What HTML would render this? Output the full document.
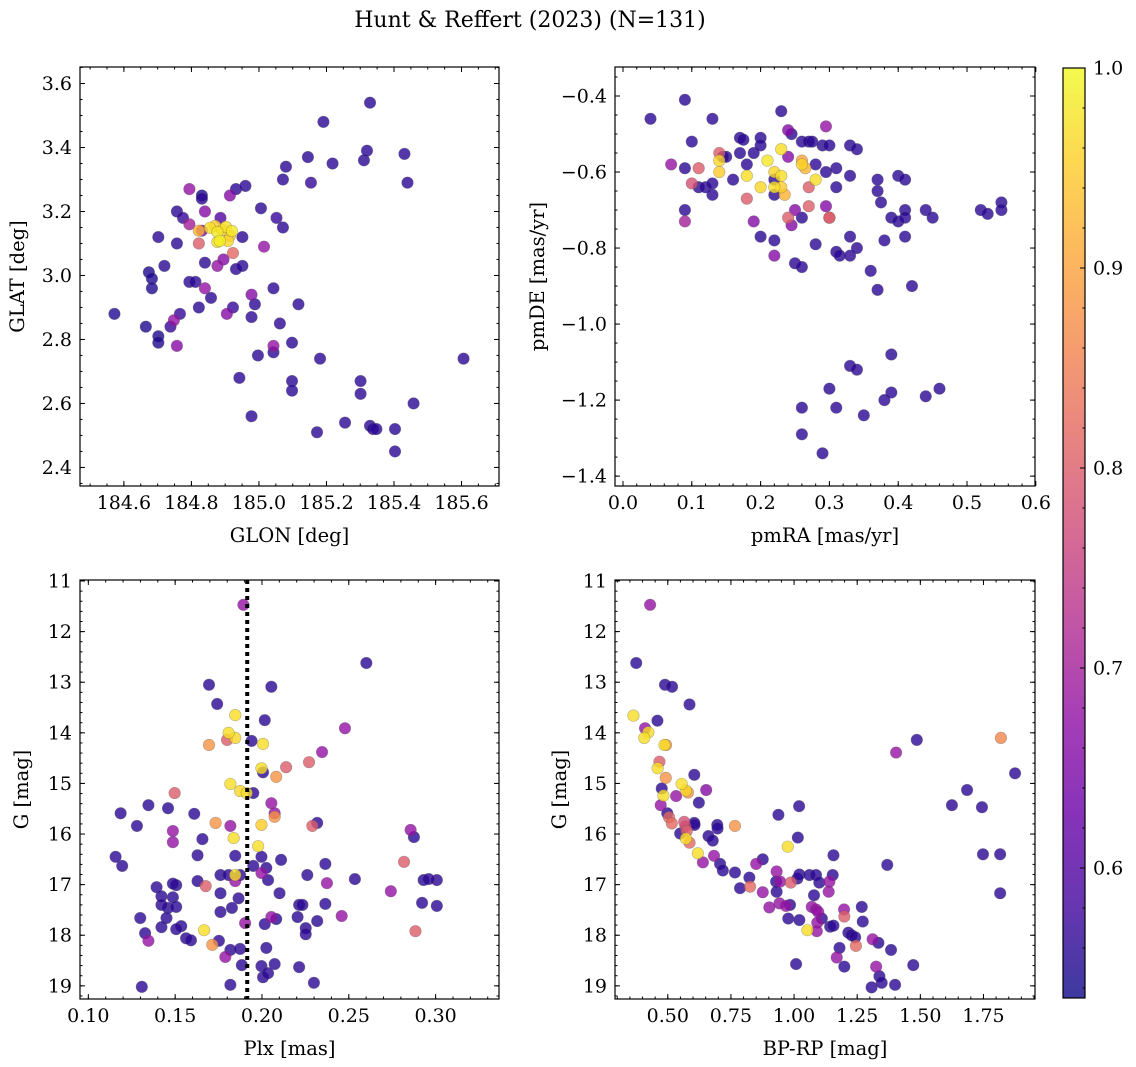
<!DOCTYPE html>
<html><head><meta charset="utf-8">
<style>
html,body{margin:0;padding:0;background:#fff;}
svg{display:block;font-family:"DejaVu Serif","Liberation Serif",serif;}
</style></head>
<body>
<svg id="fig" width="1136" height="1067" viewBox="0 0 1136 1067" xmlns="http://www.w3.org/2000/svg">
<text x="530" y="27" font-size="22" text-anchor="middle" fill="#000">Hunt &amp; Reffert (2023) (N=131)</text>
</svg>
<script>
// ---------- Panel 1 data: GLON / GLAT ----------
const p1x = [184.572,184.665,184.674,184.683,184.683,184.702,184.702,184.702,184.720,184.738,184.748,184.757,184.757,184.766,184.757,184.775,184.794,184.794,184.794,184.812,184.822,184.831,184.831,184.822,184.831,184.840,184.840,184.840,184.822,184.858,184.877,184.886,184.895,184.905,184.923,184.923,184.914,184.932,184.932,184.942,184.951,184.951,184.960,184.978,184.978,184.988,184.978,185.006,185.015,184.997,185.043,185.043,185.043,185.052,185.071,185.062,185.071,185.080,185.098,185.098,185.098,185.117,185.145,185.154,185.172,185.181,185.191,185.218,185.255,185.301,185.301,185.311,185.320,185.329,185.329,185.338,185.348,185.403,185.403,185.431,185.440,185.458,185.606,184.855,184.870,184.877,184.891,184.902,184.914,184.884,184.877,184.920,184.908];
const p1y = [2.88,2.84,3.01,2.99,2.96,3.12,2.81,2.79,3.03,2.84,2.86,3.20,3.10,2.88,2.78,3.18,3.16,3.27,2.98,2.98,2.90,3.25,3.24,3.10,3.14,3.04,3.20,2.96,3.14,2.93,3.03,3.18,3.05,2.88,2.90,3.07,3.25,3.27,3.02,2.68,3.03,3.12,3.28,2.94,2.87,2.91,2.56,3.21,3.09,2.75,2.96,2.76,2.78,3.18,3.30,2.85,3.15,3.34,2.79,2.67,2.64,2.91,3.37,3.29,2.51,2.74,3.48,3.35,2.54,2.67,2.63,3.36,3.39,3.54,2.53,2.52,2.52,2.52,2.45,3.38,3.29,2.60,2.74,3.149,3.155,3.136,3.142,3.152,3.124,3.108,3.105,3.139,3.108];
const p1p = [.55,.55,.55,.55,.55,.56,.55,.55,.56,.57,.68,.56,.56,.57,.66,.57,.70,.68,.56,.56,.56,.55,.56,.80,.66,.56,.66,.68,.92,.56,.68,.60,.66,.66,.57,.82,.66,.56,.56,.56,.56,.56,.56,.66,.56,.56,.56,.56,.68,.56,.56,.56,.68,.57,.56,.56,.56,.56,.56,.56,.56,.56,.56,.57,.56,.56,.56,.56,.56,.56,.56,.56,.56,.56,.56,.56,.56,.56,.56,.56,.56,.56,.56,.97,.95,.98,.96,.97,.95,.99,.97,.98,.96];
// ---------- Panel 2 data: pmRA / pmDE ----------
const p2x = [0.04,0.09,0.10,0.07,0.09,0.09,0.09,0.10,0.11,0.11,0.12,0.13,0.14,0.14,0.13,0.13,0.14,0.145,0.15,0.16,0.17,0.175,0.17,0.18,0.18,0.18,0.19,0.19,0.20,0.20,0.20,0.20,0.21,0.22,0.22,0.22,0.22,0.22,0.22,0.23,0.23,0.23,0.235,0.24,0.23,0.24,0.245,0.24,0.245,0.25,0.26,0.25,0.26,0.26,0.265,0.26,0.26,0.27,0.27,0.27,0.275,0.28,0.28,0.28,0.29,0.295,0.295,0.30,0.295,0.30,0.30,0.31,0.31,0.31,0.315,0.33,0.33,0.33,0.33,0.34,0.34,0.36,0.37,0.37,0.37,0.375,0.38,0.39,0.40,0.40,0.41,0.41,0.41,0.41,0.42,0.44,0.45,0.52,0.53,0.55,0.55,0.26,0.26,0.29,0.30,0.31,0.33,0.34,0.35,0.38,0.39,0.39,0.44,0.46];
const p2y = [-0.46,-0.41,-0.52,-0.58,-0.70,-0.73,-0.59,-0.63,-0.64,-0.59,-0.64,-0.46,-0.57,-0.60,-0.63,-0.66,-0.55,-0.56,-0.56,-0.62,-0.51,-0.515,-0.55,-0.58,-0.67,-0.61,-0.55,-0.73,-0.64,-0.51,-0.77,-0.53,-0.57,-0.66,-0.62,-0.64,-0.82,-0.60,-0.78,-0.54,-0.61,-0.64,-0.66,-0.56,-0.44,-0.49,-0.50,-0.72,-0.74,-0.70,-0.72,-0.84,-0.57,-0.58,-0.59,-0.52,-0.85,-0.64,-0.69,-0.52,-0.52,-0.58,-0.62,-0.79,-0.53,-0.48,-0.60,-0.72,-0.69,-0.72,-0.53,-0.59,-0.64,-0.81,-0.82,-0.53,-0.61,-0.77,-0.82,-0.54,-0.80,-0.86,-0.91,-0.62,-0.65,-0.68,-0.78,-0.72,-0.73,-0.61,-0.62,-0.70,-0.72,-0.77,-0.90,-0.70,-0.72,-0.70,-0.71,-0.68,-0.70,-1.29,-1.22,-1.34,-1.17,-1.22,-1.11,-1.12,-1.24,-1.20,-1.18,-1.08,-1.19,-1.17];
const p2p = [.56,.56,.56,.68,.56,.70,.56,.78,.56,.80,.56,.56,.96,.95,.56,.56,.80,.56,.56,.56,.56,.56,.56,.56,.80,.97,.56,.66,.96,.56,.56,.56,.98,.56,.56,.97,.66,.96,.56,.97,.97,.95,.92,.66,.56,.66,.56,.80,.66,.66,.56,.56,.90,.96,.92,.56,.56,.80,.80,.56,.56,.56,.97,.56,.56,.68,.56,.80,.66,.80,.56,.56,.56,.56,.56,.56,.56,.56,.56,.56,.56,.56,.56,.56,.56,.56,.56,.56,.56,.56,.56,.56,.56,.56,.56,.56,.56,.56,.56,.56,.56,.56,.56,.56,.56,.56,.56,.56,.56,.56,.56,.56,.56,.56];
// ---------- Panel 3 data: Plx / G ----------
const p3x = [0.1893,0.2601,0.1695,0.2054,0.1742,0.1846,0.2016,0.2478,0.1808,0.1695,0.1799,0.1846,0.2006,0.1940,0.2346,0.2271,0.2139,0.1997,0.2006,0.2082,0.1818,0.1497,0.1874,0.1950,0.1912,0.2054,0.2073,0.1186,0.1346,0.1459,0.1610,0.2073,0.2318,0.2290,0.1733,0.1818,0.1997,0.1280,0.1487,0.1487,0.2856,0.2875,0.1837,0.1657,0.1978,0.1846,0.1629,0.1997,0.2110,0.2818,0.1195,0.1157,0.1950,0.2025,0.2365,0.1997,0.1846,0.1761,0.1808,0.1874,0.2261,0.2035,0.1846,0.2101,0.2535,0.1506,0.1393,0.1487,0.1629,0.1676,0.3007,0.2931,0.2960,0.2374,0.2742,0.1421,0.1487,0.1761,0.1865,0.2214,0.2233,0.2365,0.2922,0.3007,0.1299,0.1459,0.1506,0.1421,0.1450,0.1761,0.1827,0.2054,0.2082,0.2205,0.2318,0.2459,0.1535,0.1903,0.2016,0.2252,0.1506,0.1327,0.1421,0.2252,0.2884,0.1667,0.1563,0.1591,0.1346,0.1714,0.1752,0.2025,0.1818,0.1874,0.1789,0.1884,0.1997,0.2214,0.2073,0.2006,0.2035,0.1818,0.2299,0.1308];
const p3y = [11.47,12.62,13.05,13.09,13.43,13.65,13.75,13.91,14.00,14.24,14.14,14.10,14.22,14.16,14.38,14.58,14.68,14.70,14.78,14.87,15.01,15.19,15.15,15.19,15.19,15.39,15.59,15.59,15.43,15.49,15.60,15.66,15.78,15.84,15.78,15.84,15.82,15.84,15.94,16.16,15.92,16.06,16.08,16.10,16.24,16.43,16.42,16.45,16.51,16.55,16.63,16.45,16.63,16.67,16.59,16.77,16.81,16.81,16.81,16.81,16.81,16.91,16.93,17.17,16.89,17.01,17.05,16.98,16.93,17.03,16.91,16.91,16.89,16.97,17.13,17.23,17.25,17.17,17.27,17.40,17.40,17.38,17.36,17.42,17.66,17.46,17.44,17.40,17.66,17.54,17.46,17.64,17.68,17.64,17.72,17.62,17.82,17.76,17.78,17.86,17.88,17.96,17.84,17.98,17.92,17.90,18.06,18.10,18.11,18.19,18.11,18.25,18.29,18.27,18.43,18.59,18.61,18.63,18.57,18.83,18.75,18.98,18.94,19.02];
const p3p = [.68,.56,.56,.56,.56,.97,.56,.68,.97,.88,.80,.96,.97,.56,.68,.80,.80,.97,.56,.88,.97,.80,.96,.56,.97,.68,.68,.56,.56,.56,.56,.88,.56,.80,.88,.68,.95,.56,.68,.68,.68,.56,.97,.56,.97,.56,.56,.56,.56,.80,.56,.56,.56,.56,.56,.68,.97,.56,.56,.56,.56,.56,.68,.56,.56,.56,.56,.56,.56,.80,.56,.56,.56,.68,.68,.56,.56,.56,.56,.56,.56,.56,.56,.56,.56,.56,.56,.56,.56,.56,.56,.68,.56,.56,.56,.68,.56,.68,.56,.56,.56,.56,.56,.56,.80,.97,.56,.56,.68,.88,.56,.56,.56,.56,.68,.56,.56,.56,.56,.56,.56,.56,.56,.56];
// ---------- Panel 4 data: BP-RP / G ----------
const p4x = [0.430,0.375,0.489,0.517,0.364,0.459,0.410,0.423,0.407,0.493,0.487,0.586,0.467,0.460,0.492,0.605,0.555,0.572,0.580,0.652,0.476,0.483,0.533,0.623,0.472,1.020,0.498,0.505,0.516,0.938,0.565,0.570,0.575,0.605,0.606,0.549,0.572,0.586,0.696,0.697,0.766,0.661,0.678,1.015,0.975,0.619,0.683,0.639,1.156,1.369,0.850,0.876,0.707,0.718,0.766,0.823,0.786,0.826,0.876,0.931,0.929,0.945,0.987,1.013,1.021,1.061,1.087,1.100,1.140,1.153,1.137,0.931,0.902,0.942,0.984,0.968,1.079,1.070,1.087,1.096,1.092,1.090,1.110,1.143,1.156,0.977,1.021,1.053,1.198,1.199,1.268,1.272,1.215,1.228,1.242,1.245,1.180,1.169,1.199,1.008,1.311,1.334,1.384,1.325,1.338,1.347,1.307,1.400,1.472,1.404,1.486,1.819,1.685,1.625,1.744,1.875,1.748,1.816,1.816];
const p4y = [11.47,12.62,13.05,13.09,13.66,13.76,13.91,13.99,14.10,14.24,14.24,13.44,14.57,14.70,14.89,14.83,15.01,15.14,15.18,15.13,15.10,15.24,15.25,15.38,15.43,15.45,15.59,15.67,15.79,15.62,15.76,15.85,15.94,15.78,15.82,15.99,16.09,16.17,15.82,15.89,15.84,16.04,16.13,16.07,16.25,16.38,16.43,16.56,16.42,16.61,16.59,16.50,16.59,16.72,16.76,16.86,17.07,17.04,17.15,16.74,16.94,16.94,16.96,16.88,16.80,16.81,16.81,16.96,16.94,16.81,17.14,17.14,17.45,17.37,17.40,17.42,17.21,17.44,17.49,17.54,17.75,17.92,17.67,17.83,17.81,17.67,17.70,17.90,17.49,17.63,17.44,17.73,17.95,18.00,18.04,18.21,18.25,18.44,18.62,18.57,18.08,18.15,18.29,18.62,18.81,18.94,19.03,18.98,18.59,14.39,14.14,14.10,15.13,15.43,15.47,14.80,16.40,16.40,17.17];
const p4p = [.68,.56,.56,.56,.97,.56,.68,.97,.97,.88,.97,.56,.80,.97,.88,.56,.97,.96,.88,.66,.56,.97,.68,.56,.68,.56,.56,.82,.82,.56,.78,.76,.80,.56,.56,.56,.97,.82,.56,.56,.88,.56,.56,.56,.97,.97,.68,.68,.56,.56,.68,.56,.56,.56,.56,.56,.56,.82,.68,.68,.56,.68,.80,.56,.56,.56,.56,.56,.68,.56,.68,.56,.68,.68,.56,.68,.56,.68,.68,.68,.68,.68,.56,.56,.56,.56,.56,.97,.68,.80,.56,.56,.56,.56,.56,.82,.56,.68,.56,.56,.68,.56,.56,.68,.56,.56,.56,.56,.56,.68,.56,.86,.56,.56,.56,.56,.56,.56,.56];
// ---------- Tick labels ----------
const p1xTicks = [184.6,184.8,185.0,185.2,185.4,185.6];
const p1yTicks = [2.4,2.6,2.8,3.0,3.2,3.4,3.6];
const p2xTicks = [0.0,0.1,0.2,0.3,0.4,0.5,0.6];
const p2yTicks = [-1.4,-1.2,-1.0,-0.8,-0.6,-0.4];
const p3xTicks = [0.10,0.15,0.20,0.25,0.30];
const gTicks = [11,12,13,14,15,16,17,18,19];
const p4xTicks = [0.50,0.75,1.00,1.25,1.50,1.75];
const cbTicks = [0.6,0.7,0.8,0.9,1.0];
const plxLine = [0.1915];
const cRange = [0.535,1.0];

const NS = "http://www.w3.org/2000/svg";
const svg = document.getElementById('fig');
const TICKFS = 19, LABFS = 19.5;
function mk(tag, attrs, parent){const e=document.createElementNS(NS,tag);for(const k in attrs)e.setAttribute(k,attrs[k]);(parent||svg).appendChild(e);return e;}

const plasma=[[13,8,135],[65,4,157],[106,0,168],[143,13,164],[177,42,144],[204,71,120],[225,100,98],[242,132,75],[252,166,54],[252,206,37],[240,249,33]];
function cmap(v){let t=(v-cRange[0])/(cRange[1]-cRange[0]);t=Math.max(0,Math.min(1,t))*10;const i=Math.min(9,Math.floor(t)),f=t-i;const a=plasma[i],b=plasma[i+1];return 'rgb('+a.map((c,k)=>Math.round(c+(b[k]-c)*f)).join(',')+')';}

function fmt(v,d){const s=Math.abs(v).toFixed(d);return (v<0?'\u2212':'')+s;}

function panel(cfg){
  const {name,L,T,R,B,xmin,xmax,ymin,ymax,yinv,xt,yt,xd,yd,xminor,yminor,xlab,ylab,ylabX,xs,ys,ps} = cfg;
  const g=mk('g',{});
  
  
  const sx=v=>L+(v-xmin)/(xmax-xmin)*(R-L);
  const sy=yinv? (v=>T+(v-ymin)/(ymax-ymin)*(B-T)) : (v=>B-(v-ymin)/(ymax-ymin)*(B-T));
  const cid='clip-'+name;
  const cp=mk('clipPath',{id:cid},g); mk('rect',{x:L,y:T,width:R-L,height:B-T},cp);
  const pts=mk('g',{'clip-path':'url(#'+cid+')'},g);
  
  
  const idx=ps.map((p,i)=>i).sort((a,b)=>ps[a]-ps[b]);
  for(const i of idx){
    const c=mk('circle',{cx:sx(xs[i]),cy:sy(ys[i]),r:5.8,fill:cmap(ps[i]),'fill-opacity':0.8,stroke:'rgba(90,90,90,0.45)','stroke-width':0.6},pts);
    
    
  }
  if(cfg.vline){
    const ln=mk('line',{x1:sx(cfg.vline[0]),x2:sx(cfg.vline[0]),y1:T,y2:B,stroke:'#000','stroke-width':4,'stroke-dasharray':'4,4'},g);
    
    
  }
  const tg=mk('g',{stroke:'#000','stroke-width':1},g);
  const eps=1e-9;
  const x0=Math.ceil((xmin-eps)/xminor)*xminor;
  for(let v=x0; v<=xmax+eps; v+=xminor){const X=sx(v);mk('line',{x1:X,x2:X,y1:B,y2:B-2.5},tg);mk('line',{x1:X,x2:X,y1:T,y2:T+2.5},tg);}
  const ylo=Math.min(ymin,ymax),yhi=Math.max(ymin,ymax);
  const y0=Math.ceil((ylo-eps)/yminor)*yminor;
  for(let v=y0; v<=yhi+eps; v+=yminor){const Y=sy(v);mk('line',{x1:L,x2:L+2.5,y1:Y,y2:Y},tg);mk('line',{x1:R,x2:R-2.5,y1:Y,y2:Y},tg);}
  for(const v of xt){const X=sx(v);mk('line',{x1:X,x2:X,y1:B,y2:B-5},tg);mk('line',{x1:X,x2:X,y1:T,y2:T+5},tg);
    const t=mk('text',{x:X,y:B+23,'font-size':TICKFS,'text-anchor':'middle',fill:'#000'},g);t.textContent=fmt(v,xd);
    
    }
  for(const v of yt){const Y=sy(v);mk('line',{x1:L,x2:L+5,y1:Y,y2:Y},tg);mk('line',{x1:R,x2:R-5,y1:Y,y2:Y},tg);
    const t=mk('text',{x:L-8,y:Y+6.5,'font-size':TICKFS,'text-anchor':'end',fill:'#000'},g);t.textContent=fmt(v,yd);
    
    }
  const fr=mk('rect',{x:L,y:T,width:R-L,height:B-T,fill:'none',stroke:'#000','stroke-width':1.2},g);
  
  
  const xl=mk('text',{x:(L+R)/2,y:B+56,'font-size':LABFS,'text-anchor':'middle',fill:'#000'},g);xl.textContent=xlab;
  
  
  const yl=mk('text',{x:ylabX,y:(T+B)/2,'font-size':LABFS,'text-anchor':'middle',fill:'#000',transform:'rotate(-90 '+ylabX+' '+((T+B)/2)+')'},g);yl.textContent=ylab;
  
  
}

panel({name:'glon-glat-panel',L:80,T:67,R:499,B:486,xmin:184.470,xmax:185.711,ymin:2.342,ymax:3.6516,yinv:false,xt:p1xTicks,yt:p1yTicks,xd:1,yd:1,xminor:0.05,yminor:0.05,xlab:'GLON [deg]',ylab:'GLAT [deg]',ylabX:24,xs:p1x,ys:p1y,ps:p1p});
panel({name:'pm-panel',L:615,T:67,R:1035,B:486,xmin:-0.0116,xmax:0.5988,ymin:-1.426,ymax:-0.3237,yinv:false,xt:p2xTicks,yt:p2yTicks,xd:1,yd:1,xminor:0.02,yminor:0.05,xlab:'pmRA [mas/yr]',ylab:'pmDE [mas/yr]',ylabX:544,xs:p2x,ys:p2y,ps:p2p});
panel({name:'plx-g-panel',L:80,T:580,R:499,B:999,xmin:0.0952,xmax:0.3365,ymin:10.98,ymax:19.26,yinv:true,xt:p3xTicks,yt:gTicks,xd:2,yd:0,xminor:0.01,yminor:0.2,xlab:'Plx [mas]',ylab:'G [mag]',ylabX:28,xs:p3x,ys:p3y,ps:p3p,vline:plxLine});
panel({name:'cmd-panel',L:615,T:580,R:1035,B:999,xmin:0.291,xmax:1.954,ymin:10.98,ymax:19.26,yinv:true,xt:p4xTicks,yt:gTicks,xd:2,yd:0,xminor:0.05,yminor:0.2,xlab:'BP-RP [mag]',ylab:'G [mag]',ylabX:566,xs:p4x,ys:p4y,ps:p4p});

(function(){
  const L=1063,R=1085,T=68,B=998;
  const cb=mk('g',{});
  
  
  const defs=mk('defs',{},cb);
  const lg=mk('linearGradient',{id:'cbg',x1:0,y1:1,x2:0,y2:0},defs);
  for(let i=0;i<=10;i++){const c=plasma[i];mk('stop',{offset:(i/10),'stop-color':'rgb('+c.join(',')+')','stop-opacity':0.8},lg);}
  mk('rect',{x:L,y:T,width:R-L,height:B-T,fill:'#fff'},cb);
  mk('rect',{x:L,y:T,width:R-L,height:B-T,fill:'url(#cbg)'},cb);
  const sy=v=>B-(v-cRange[0])/(cRange[1]-cRange[0])*(B-T);
  for(let v=0.54;v<=1.0001;v+=0.02){const Y=sy(v);mk('line',{x1:R,x2:R-2.5,y1:Y,y2:Y,stroke:'#000','stroke-width':1},cb);}
  for(const v of cbTicks){const Y=sy(v);mk('line',{x1:R,x2:R-5,y1:Y,y2:Y,stroke:'#000','stroke-width':1},cb);
    const t=mk('text',{x:R+8,y:Y+6.5,'font-size':TICKFS,fill:'#000'},cb);t.textContent=v.toFixed(1);
    
    }
  mk('rect',{x:L,y:T,width:R-L,height:B-T,fill:'none',stroke:'#000','stroke-width':1.2},cb);
})();
</script>
</body></html>
